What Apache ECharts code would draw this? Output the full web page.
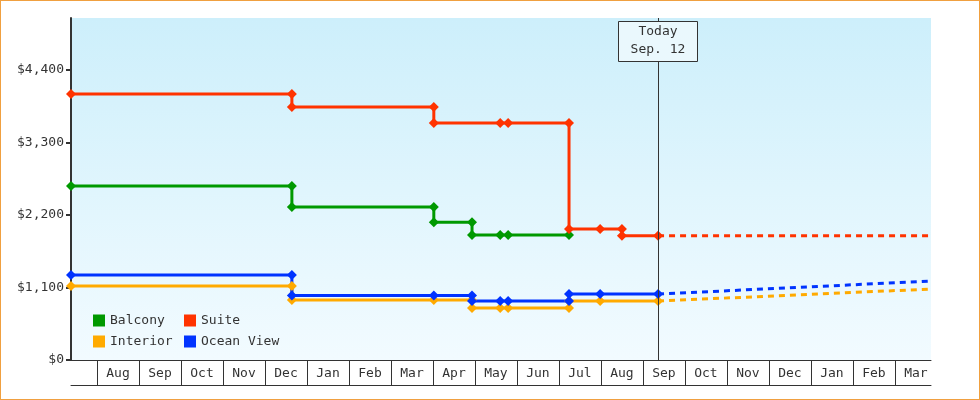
<!DOCTYPE html><html><head><meta charset="utf-8">
<script src="https://cdn.jsdelivr.net/npm/echarts@6/dist/echarts.min.js"></script>
<style>html,body{margin:0;padding:0;background:#fff}#c{width:978px;height:398px;border:1px solid #f0a040}</style></head><body><div id="c"></div>
<script>
// x in month units: 1 = Aug 1 (first full month cell)
const months = ['Aug','Sep','Oct','Nov','Dec','Jan','Feb','Mar','Apr','May','Jun','Jul','Aug','Sep','Oct','Nov','Dec','Jan','Feb','Mar'];
const yTicks = [0,1100,2200,3300,4400];
const todayX = 14.36;
const balcony = [[0.38,2640],[5.64,2640],[5.64,2321],[9.02,2321],[9.02,2089],[9.93,2089],[9.93,1897],[10.6,1897],[10.79,1897],[12.24,1897]];
const suite = [[0.38,4036],[5.64,4036],[5.64,3839],[9.02,3839],[9.02,3596],[10.6,3596],[10.79,3596],[12.24,3596],[12.24,1988],[12.98,1988],[13.5,1988],[13.5,1886],[14.36,1886]];
const interior = [[0.38,1123],[5.64,1123],[5.64,910],[9.02,910],[9.93,910],[9.93,789],[10.6,789],[10.79,789],[12.24,789],[12.24,895],[12.98,895],[14.36,895]];
const ocean = [[0.38,1290],[5.64,1290],[5.64,980],[9.02,980],[9.93,980],[9.93,895],[10.6,895],[10.79,895],[12.24,895],[12.24,1001],[12.98,1001],[14.36,1001]];
const suiteF = [[14.36,1886],[20.86,1886]];
const interiorF = [[14.36,895],[20.86,1077]];
const oceanF = [[14.36,1001],[20.86,1198]];
const colors = {Balcony:'#009900',Suite:'#ff3300',Interior:'#ffaa00','Ocean View':'#0033ff'};
const font = 'DejaVu Sans Mono';
function solid(name,data){return {name,type:'line',data,symbol:'diamond',symbolSize:10,showSymbol:true,
  lineStyle:{width:3,color:colors[name]},itemStyle:{color:colors[name]},z:3,animation:false};}
function dashed(name,data){return {name:name+'_f',type:'line',data,symbol:'none',
  lineStyle:{width:3,color:colors[name],type:[6,5]},z:2,animation:false};}
const chart = echarts.init(document.getElementById('c'));
chart.setOption({
  animation:false,
  textStyle:{fontFamily:font},
  grid:{left:70,right:48,top:17,bottom:39,show:true,borderWidth:0,
    backgroundColor:{type:'linear',x:0,y:0,x2:0,y2:1,colorStops:[{offset:0,color:'#cdeffb'},{offset:1,color:'#f2fbff'}]}},
  legend:[
    {data:['Balcony','Interior'],orient:'vertical',left:92,top:313,itemWidth:12,itemHeight:12,itemGap:8,icon:'rect',
      textStyle:{fontFamily:font,fontSize:13,color:'#333'},padding:0,itemStyle:{borderWidth:0}},
    {data:['Suite','Ocean View'],orient:'vertical',left:183,top:313,itemWidth:12,itemHeight:12,itemGap:8,icon:'rect',
      textStyle:{fontFamily:font,fontSize:13,color:'#333'},padding:0,itemStyle:{borderWidth:0}}
  ],
  xAxis:[
    {type:'value',min:0.38,max:20.86,splitLine:{show:false},
      axisLine:{show:true,lineStyle:{color:'#333',width:1}},
      axisTick:{show:true,inside:false,length:25,customValues:months.map((m,i)=>i+1),lineStyle:{color:'#333'}},
      axisLabel:{customValues:months.map((m,i)=>i+1.5),formatter:v=>months[Math.round(v-1.5)],
        fontFamily:font,fontSize:13,color:'#333',margin:7}},
    {type:'value',min:0.38,max:20.86,position:'bottom',offset:25,axisLine:{show:true,lineStyle:{color:'#333'}},
      axisTick:{show:false},axisLabel:{show:false},splitLine:{show:false}}
  ],
  yAxis:{type:'value',min:0,max:5190,splitLine:{show:false},
    axisLine:{show:true,lineStyle:{color:'#333',width:2}},
    axisTick:{show:true,length:5,customValues:yTicks,lineStyle:{color:'#333',width:2}},
    axisLabel:{customValues:yTicks,formatter:v=>'$'+v.toLocaleString('en-US'),fontFamily:font,fontSize:13,color:'#333',margin:7}},
  series:[
    solid('Balcony',balcony),solid('Suite',suite),solid('Interior',interior),solid('Ocean View',ocean),
    dashed('Suite',suiteF),dashed('Interior',interiorF),dashed('Ocean View',oceanF),
    {type:'line',data:[],markLine:{silent:true,symbol:'none',label:{show:false},lineStyle:{color:'#333',width:1,type:'solid'},data:[{xAxis:todayX}]}}
  ]
});
const px = chart.convertToPixel({xAxisIndex:0,yAxisIndex:0},[todayX,0])[0];
chart.setOption({graphic:[{type:'rect',shape:{x:Math.round(px)-39.5,y:20.5,width:79,height:40},style:{fill:'#eaf8fd',stroke:'#333',lineWidth:1},z:10},
  {type:'text',x:Math.round(px),y:40,style:{text:'Today\nSep. 12',align:'center',verticalAlign:'middle',font:'13px "DejaVu Sans Mono"',fill:'#333',lineHeight:18},z:11}]});
</script></body></html>
